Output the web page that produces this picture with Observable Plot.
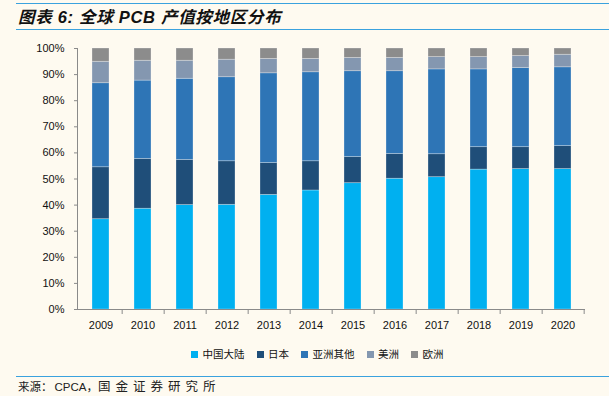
<!DOCTYPE html>
<html><head><meta charset="utf-8">
<script src="https://cdn.jsdelivr.net/npm/d3@7"></script>
<script src="https://cdn.jsdelivr.net/npm/@observablehq/plot@0.6"></script>
<style>
html,body{margin:0;padding:0}
body{background:#FEFAF0;width:609px;height:396px;overflow:hidden;position:relative;font-family:"Liberation Sans","Noto Sans CJK SC",sans-serif;color:#111}
#title{position:absolute;left:16px;right:0;top:3px;height:25px;border-top:1.5px solid #3AA2DE;border-bottom:1.5px solid #3AA2DE;font-size:16.5px;font-weight:bold;font-style:italic;line-height:26px;padding-left:2px;box-sizing:content-box;white-space:nowrap;letter-spacing:0.7px}
#chart{position:absolute;left:0;top:0}
#legend{position:absolute;left:191px;top:347px;font-size:10.5px;font-family:"Noto Sans CJK SC",sans-serif;display:flex;align-items:center;white-space:nowrap;line-height:14px}
#legend .it{display:flex;align-items:center;margin-right:12px}
#legend .sw{width:7px;height:7px;margin-right:4.5px}
#source{position:absolute;left:16px;right:0;top:376px;border-top:1.5px solid #3AA2DE;font-size:11.5px;font-family:"Noto Sans CJK SC",sans-serif;padding-left:2px;line-height:18px;color:#222;white-space:nowrap}
#source .lat{font-family:"Liberation Sans",Arial,sans-serif;margin-left:2px}
#source .sp{letter-spacing:5px;font-size:12.5px}
</style>
</head><body>
<div id="title">图表 6: 全球 PCB 产值按地区分布</div>
<div id="chart"></div>
<div id="legend"></div>
<div id="source">来源：<span class="lat">CPCA</span>，<span class="sp">国金证券研究所</span></div>
<script>
const years = ["2009","2010","2011","2012","2013","2014","2015","2016","2017","2018","2019","2020"];
const regions = ["中国大陆","日本","亚洲其他","美洲","欧洲"];
const colors = ["#00B0F0","#1F4E79","#2E75B6","#8497B0","#8C8C8C"];
const china    = [34.6, 38.6, 40.0, 40.1, 43.9, 45.6, 48.4, 50.1, 50.7, 53.6, 53.8, 53.8];
const japan    = [19.9, 19.1, 17.3, 16.7, 12.2, 11.2, 10.0,  9.5,  8.8,  8.6,  8.4,  8.8];
const asiaOther= [32.2, 30.0, 31.1, 32.2, 34.4, 34.1, 32.9, 31.7, 32.5, 29.8, 30.3, 30.2];
const americas = [ 8.2,  7.6,  6.9,  6.7,  5.5,  5.1,  5.1,  5.1,  4.7,  4.7,  4.6,  4.8];
const europe   = [ 5.1,  4.7,  4.7,  4.3,  4.0,  4.0,  3.6,  3.6,  3.3,  3.3,  2.9,  2.4];
const yTicks = [0,10,20,30,40,50,60,70,80,90,100];

const series = [china, japan, asiaOther, americas, europe];
const data = [];
regions.forEach((r, i) => years.forEach((y, j) => data.push({year: y, region: r, value: series[i][j]})));

const W = 609, H = 340, ml = 77, mr = 24, mt = 48, mb = 31;
const step = (W - ml - mr) / years.length;

const chart = Plot.plot({
  width: W, height: H,
  marginTop: mt, marginBottom: mb, marginLeft: ml, marginRight: mr,
  style: {background: "transparent", fontFamily: "'Liberation Sans', Arial, sans-serif", fontSize: "11px", color: "#111"},
  x: {type: "band", domain: years, paddingInner: 0.6, paddingOuter: 0.3, label: null},
  y: {domain: [0, 100], label: null},
  color: {domain: regions, range: colors},
  marks: [
    Plot.barY(data, {x: "year", y: "value", fill: "region", stroke: "#ffffff", strokeOpacity: 0.35, strokeWidth: 0.8}),
    Plot.frame({anchor: "left", stroke: "#8a8a8a"}),
    Plot.ruleY([0], {stroke: "#8a8a8a"}),
    Plot.axisY({ticks: yTicks, tickSize: 3, tickPadding: 10, tickFormat: d => d + "%", stroke: "#8a8a8a", fill: "#111", fontSize: 11, label: null}),
    Plot.axisX({tickSize: 5, tickFormat: () => "", dx: step / 2, stroke: "#8a8a8a", label: null}),
    Plot.axisX({tickSize: 0, tickPadding: 12, fill: "#111", fontSize: 11, label: null})
  ]
});
document.getElementById("chart").appendChild(chart);

const lg = document.getElementById("legend");
regions.forEach((r, i) => {
  const it = document.createElement("div"); it.className = "it";
  const sw = document.createElement("div"); sw.className = "sw"; sw.style.background = colors[i];
  const t = document.createElement("span"); t.textContent = r;
  it.appendChild(sw); it.appendChild(t); lg.appendChild(it);
});
</script>
</body></html>
